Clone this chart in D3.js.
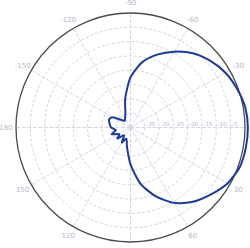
<!DOCTYPE html>
<html>
<head>
<meta charset="utf-8">
<style>
  html, body { margin: 0; padding: 0; background: #fff; }
  svg { display: block; }
</style>
<script src="https://cdn.jsdelivr.net/npm/d3@7"></script>
</head>
<body>
<script>
(function(window, document, d3) {
  // angles in degrees, clockwise from 0 at the right (matches the tick labels)
  var ANGLES = [
    -180, -170, -160, -150, -140, -130, -120, -110, -100, -90,
     -80,  -70,  -60,  -50,  -40,  -30,  -20,  -10,    0,  10,
      20,   30,   40,   50,   60,   70,   80,   90,  100, 110,
     120,  130,  140,  150,  160,  170
  ];
  // gain in dB
  var GAIN = [
    -33.2, -32.6, -32.0, -32.8, -36.0, -36.9, -36.2, -34.8, -29.5, -22.5,
    -16.9, -12.9,  -9.4,  -6.1,  -3.7,  -1.7,  -0.4,   0.7,   1.0,   0.9,
      0.6,  -0.9,  -3.5,  -6.1,  -9.6, -14.5, -20.1, -27.1, -33.0, -35.8,
    -34.0, -36.5, -34.0, -35.5, -33.0, -34.8
  ];
  var RING_VALUES = [-35, -30, -25, -20, -15, -10, -5];
  var RING_LABELS = ["-35", "-30", "-25", "-20", "-15", "-10", "-5"];
  // 0 (right) and 90 (bottom) fall outside the picture, as in the reference
  var SPOKE_ANGLES = [0, 30, 60, 90, 120, 150, 180, 210, 240, 270, 300, 330];
  var SPOKE_LABELS = ["", "30", "60", "", "120", "150", "180", "-150", "-120", "-90", "-60", "-30"];

  var W = 250, H = 248;
  var cx = 130.5, cy = 127.5, R = 114.5;

  var r = d3.scaleLinear().domain([-40, 0]).range([0, R]);
  var toRad = function(a) { return a * Math.PI / 180; };

  var svg = d3.select("body").append("svg")
    .attr("width", W)
    .attr("height", H);

  var g = svg.append("g").attr("transform", "translate(" + cx + "," + cy + ")");

  // dashed rings
  g.selectAll("circle.ring")
    .data(RING_VALUES)
    .enter().append("circle")
    .attr("class", "ring")
    .attr("r", function(d) { return r(d); })
    .attr("fill", "none")
    .attr("stroke", "#c9cfe0")
    .attr("stroke-width", 0.9)
    .attr("stroke-dasharray", "3,2");

  // spokes
  g.selectAll("line.spoke")
    .data(SPOKE_ANGLES)
    .enter().append("line")
    .attr("class", "spoke")
    .attr("x1", 0).attr("y1", 0)
    .attr("x2", function(d) { return R * Math.cos(toRad(d)); })
    .attr("y2", function(d) { return R * Math.sin(toRad(d)); })
    .attr("stroke", "#cfd4e3")
    .attr("stroke-width", 0.9)
    .attr("stroke-dasharray", "4,1.5");

  // outer circle
  g.append("circle")
    .attr("r", R)
    .attr("fill", "none")
    .attr("stroke", "#4a4a4a")
    .attr("stroke-width", 1.3);

  // ring labels along the 0 axis
  g.selectAll("text.rlab")
    .data(RING_VALUES)
    .enter().append("text")
    .attr("class", "rlab")
    .attr("x", function(d) { return r(d) + 1.5; })
    .attr("y", -1.5)
    .attr("font-family", "DejaVu Sans, sans-serif")
    .attr("font-size", 5.5)
    .attr("fill", "#b4b9c8")
    .text(function(d, i) { return RING_LABELS[i]; });

  // angle labels outside
  g.selectAll("text.alab")
    .data(SPOKE_ANGLES.filter(function(d, i) { return SPOKE_LABELS[i] !== ""; }))
    .enter().append("text")
    .attr("class", "alab")
    .attr("x", function(d) { return (R + 10) * Math.cos(toRad(d)); })
    .attr("y", function(d) { return (R + 10) * Math.sin(toRad(d)); })
    .attr("dy", "0.35em")
    .attr("text-anchor", "middle")
    .attr("font-family", "DejaVu Sans, sans-serif")
    .attr("font-size", 7)
    .attr("fill", "#b4b9c8")
    .text(function(d) { return SPOKE_LABELS[SPOKE_ANGLES.indexOf(d)]; });

  // pattern
  var pts = ANGLES.map(function(a, i) { return [toRad(a) + Math.PI / 2, r(GAIN[i])]; });
  var line = d3.lineRadial()
    .angle(function(d) { return d[0]; })
    .radius(function(d) { return d[1]; })
    .curve(d3.curveCardinalClosed.tension(0.3));

  g.append("path")
    .datum(pts)
    .attr("d", line)
    .attr("fill", "none")
    .attr("stroke", "#1c3a9c")
    .attr("stroke-width", 2)
    .attr("stroke-linejoin", "round");

}).call(this, window, document, d3);
</script>
</body>
</html>
